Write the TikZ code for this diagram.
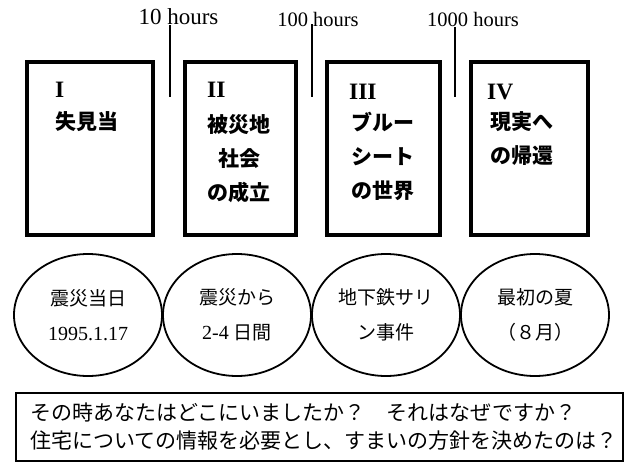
\documentclass[tikz,border=0pt]{standalone}
\usepackage{fontspec}
\setmainfont{Liberation Serif}
\newfontfamily\jp{Noto Sans CJK JP}
\usetikzlibrary{shapes.geometric}
\begin{document}
\begin{tikzpicture}[x=1pt,y=-1pt,
  stagebox/.style={draw, line width=3.6pt, minimum height=173pt, inner sep=0pt},
  roman/.style={inner sep=0pt, anchor=west, font=\fontsize{23.5}{23.5}\selectfont\bfseries},
  boxtxt/.style={inner sep=0pt, font=\jp\bfseries\fontsize{21}{34}\selectfont},
  hourtxt/.style={inner sep=0pt, anchor=base},
  tick/.style={line width=2.2pt},
  period/.style={draw, ellipse, line width=1.8pt, minimum width=148pt, minimum height=122pt,
    inner sep=0pt, align=center, font=\fontsize{20}{35}\selectfont},
  qbox/.style={draw, line width=1.6pt, minimum width=607pt, minimum height=68pt, inner sep=0pt, anchor=north west},
  qtxt/.style={inner sep=0pt, anchor=west, font=\jp\fontsize{21}{21}\selectfont}]
\useasboundingbox (0,0) rectangle (626,463);

% time labels
\node[hourtxt, font=\fontsize{23}{23}\selectfont] (h1) at (178.5,24) {10 hours};
\node[hourtxt, font=\fontsize{20.5}{20.5}\selectfont] (h2) at (318,27) {100 hours};
\node[hourtxt, font=\fontsize{20.5}{20.5}\selectfont] (h3) at (473,27) {1000 hours};
\coordinate (t1a) at (170,25); \coordinate (t1b) at (170,97);
\coordinate (t2a) at (312,24); \coordinate (t2b) at (312,97);
\coordinate (t3a) at (455,27); \coordinate (t3b) at (455,97);
\draw[tick] (t1a) -- (t1b);
\draw[tick] (t2a) -- (t2b);
\draw[tick] (t3a) -- (t3b);

% stage boxes
\node[stagebox, minimum width=126pt] (b1) at (90,148.5) {};
\node[stagebox, minimum width=111pt] (b2) at (240.5,148.5) {};
\node[stagebox, minimum width=113pt] (b3) at (383.5,148.5) {};
\node[stagebox, minimum width=117pt] (b4) at (529.5,148.5) {};

\node[roman] (r1) at (55,90) {I};
\node[roman] (r2) at (207,90) {II};
\node[roman] (r3) at (349,92) {III};
\node[roman] (r4) at (487,92) {IV};

\node[boxtxt, anchor=west] (s1) at (55,122) {失見当};
\node[boxtxt, align=center] (s2) at (239,159) {被災地\\社会\\の成立};
\node[boxtxt, align=center] (s3) at (383,156) {ブルー\\シート\\の世界};
\node[boxtxt, align=left, anchor=west] (s4) at (490,138.5) {現実へ\\の帰還};

% period ellipses
\node[period] (e1) at (88,315) {{\jp\fontsize{19}{19}\selectfont 震災当日}\\1995.1.17};
\node[period] (e2) at (237,315) {{\jp\fontsize{19}{19}\selectfont 震災から}\\2-4 {\jp\fontsize{19}{19}\selectfont 日間}};
\node[period] (e3) at (386,315) {{\jp\fontsize{19}{19}\selectfont 地下鉄サリ}\\{\jp\fontsize{19}{19}\selectfont ン事件}};
\node[period] (e4) at (535,315) {{\jp\fontsize{19}{19}\selectfont 最初の夏}\\{\jp\fontsize{19}{19}\selectfont （８月）}};

% question box
\node[qbox] (q) at (15,392) {};
\node[qtxt] (q1) at (30,412) {その時あなたはどこにいましたか？　それはなぜですか？};
\node[qtxt] (q2) at (30,441) {住宅についての情報を必要とし、すまいの方針を決めたのは？};
\end{tikzpicture}
\end{document}
